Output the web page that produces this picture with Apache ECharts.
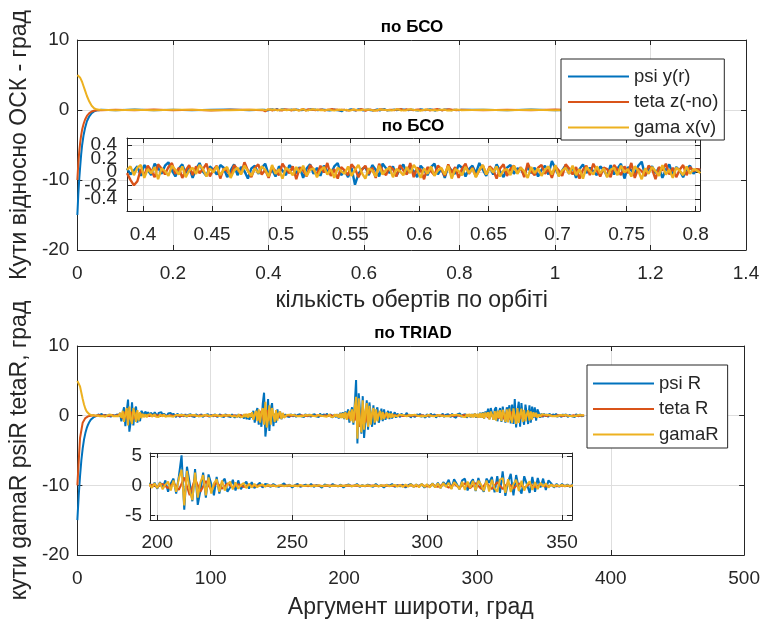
<!DOCTYPE html>
<html><head><meta charset="utf-8">
<script src="https://cdn.jsdelivr.net/npm/echarts@6/dist/echarts.min.js"></script>
<style>html,body{margin:0;padding:0;background:#fff}#c{width:763px;height:620px}</style>
</head><body><div id="c"></div>
<script>
// ---------- Top plot (по БСО): x = кількість обертів ----------
const bsoTransX = [0,0.002,0.004,0.006,0.008,0.010,0.013,0.016,0.020,0.025,0.030,0.035,0.040,0.045];
const psiTrans  = [-15,-12,-9.8,-8,-6.3,-5,-3.6,-2.6,-1.6,-0.9,-0.45,-0.2,-0.08,-0.02];
const tetaTrans = [-10,-7.6,-5.9,-4.6,-3.6,-2.8,-2.0,-1.4,-0.85,-0.45,-0.22,-0.1,-0.04,-0.01];
const gamaTrans = [5,4.95,4.8,4.6,4.3,4.0,3.4,2.8,2.0,1.2,0.6,0.25,0.1,0.03];

const bsoMidX  = [0.05,0.08,0.12,0.16,0.2,0.24,0.28,0.32,0.36];
const psiMid   = [0.03,-0.05,0.06,-0.02,0.05,-0.04,0.02,0.06,-0.03];
const tetaMid  = [-0.04,0.05,-0.02,0.06,-0.05,0.03,-0.06,0.02,0.04];
const gamaMid  = [0.02,-0.03,0.04,-0.05,0.03,0.05,-0.02,-0.04,0.03];

// zoomed window (inset) samples
const bsoInStart = 0.3884, bsoInStep = 0.0025;
const psiBsoIn = [0.05,-0.04,0.02,0.08,-0.06,0.10,0.03,-0.05,0.12,0.06,
-0.03,0.09,0.14,0.02,-0.07,0.05,0.11,-0.02,0.07,-0.09,
0.04,0.13,0.00,-0.06,0.08,0.03,-0.04,0.10,0.06,-0.08,
0.02,0.11,-0.05,0.07,0.01,-0.10,0.05,0.09,-0.03,0.06,
0.12,-0.04,0.03,-0.07,0.08,0.02,-0.05,0.10,0.04,-0.02,
0.07,-0.09,0.05,0.11,-0.03,0.06,-0.06,0.09,0.01,-0.04,
0.08,0.13,-0.05,0.02,-0.08,0.06,-0.19,-0.03,0.04,0.07,
-0.05,0.10,0.03,-0.07,0.12,0.05,-0.02,0.08,-0.06,0.04,
0.11,-0.03,0.06,0.01,-0.08,0.09,0.03,-0.05,0.07,0.12,
-0.04,0.05,-0.09,0.08,0.02,-0.03,0.10,0.06,-0.07,0.04,
0.09,-0.02,0.13,0.03,-0.06,0.07,-0.04,0.11,0.01,-0.08,
0.06,0.10,-0.03,0.05,0.04,-0.05,0.08,-0.02,0.06,-0.07,
0.03,0.09,-0.04,0.16,0.05,-0.06,0.02,0.10,-0.03,0.07,
-0.09,0.04,0.11,-0.02,0.06,0.01,-0.05,0.08,0.03,-0.07,
0.10,-0.04,0.05,0.12,-0.10,0.07,0.02,-0.03,0.09,0.15,
-0.06,0.04,0.08,-0.02,0.06,-0.09,0.03,0.11,-0.05,0.07,
0.02,-0.08,0.05,0.09,-0.03,0.04,0.02];
const tetaBsoIn = [-0.02,-0.12,-0.20,-0.14,0.04,-0.06,0.09,0.02,-0.08,0.11,
0.05,-0.04,0.07,0.13,-0.03,0.06,-0.09,0.02,0.10,-0.05,
0.08,-0.02,0.04,0.12,-0.07,0.03,0.09,-0.10,0.05,0.01,
-0.06,0.10,0.04,-0.03,0.14,0.02,-0.08,0.06,0.11,-0.04,
0.03,-0.09,0.07,0.01,-0.05,0.12,0.04,-0.02,0.08,-0.11,
0.06,0.02,-0.07,0.10,0.03,-0.04,0.09,-0.01,0.13,-0.06,
0.04,-0.10,0.07,0.02,-0.05,0.11,0.05,-0.08,0.03,0.09,
-0.03,0.06,-0.09,0.12,0.01,-0.05,0.08,0.04,-0.07,0.10,
0.02,-0.04,0.13,-0.08,0.06,0.03,-0.11,0.07,0.01,-0.05,
0.09,0.04,-0.06,0.11,-0.02,0.07,-0.09,0.05,0.12,-0.03,
0.06,-0.07,0.02,0.10,-0.04,0.08,0.03,-0.10,0.05,0.11,
-0.06,0.04,0.09,-0.02,0.07,-0.08,0.13,0.01,-0.05,0.06,
0.10,-0.03,0.04,-0.09,0.08,0.02,-0.06,0.11,0.05,-0.04,
0.07,-0.10,0.03,0.09,-0.05,0.12,0.02,-0.07,0.06,0.04,
-0.08,0.10,0.03,-0.05,0.08,-0.02,0.13,-0.09,0.05,0.01,
-0.06,0.09,0.04,-0.11,0.07,0.02,0.12,-0.04,0.06,-0.08,
0.03,0.10,-0.05,0.07,0.01,0.04,0.03];
const gamaBsoIn = [0.03,0.08,-0.05,0.06,0.10,-0.09,0.04,-0.02,0.07,-0.11,
0.05,0.01,-0.06,0.09,0.03,-0.04,0.08,-0.08,0.02,0.06,
-0.03,0.10,0.04,-0.07,0.05,-0.01,0.08,-0.05,0.03,0.07,
-0.09,0.02,0.06,-0.04,0.09,0.01,-0.06,0.05,-0.02,0.08,
0.03,-0.07,0.10,-0.03,0.04,-0.10,0.06,0.02,-0.05,0.07,
-0.01,0.09,-0.06,0.03,0.05,-0.08,0.02,0.07,-0.04,0.04,
-0.09,0.06,0.01,-0.03,0.08,-0.06,0.03,0.10,-0.02,-0.10,
0.05,0.02,-0.07,0.09,-0.04,0.03,0.06,-0.08,0.04,0.01,
-0.05,0.07,-0.02,0.10,0.03,-0.09,0.05,-0.03,0.08,-0.06,
0.02,0.06,-0.04,0.09,-0.10,0.04,0.01,-0.05,0.07,-0.02,
0.05,-0.08,0.03,0.10,-0.04,0.06,-0.01,0.08,-0.07,0.02,
0.04,-0.05,0.09,-0.03,0.06,0.01,-0.09,0.07,-0.02,0.05,
-0.06,0.03,0.08,-0.04,0.10,-0.07,0.02,0.06,-0.03,0.09,
-0.05,0.04,-0.10,0.07,0.01,-0.04,0.08,-0.02,0.05,-0.08,
0.03,0.06,-0.05,0.09,-0.01,0.04,-0.07,0.08,0.02,-0.11,
0.05,-0.03,0.07,0.01,-0.06,0.10,-0.04,0.03,-0.09,0.06,
0.02,-0.05,0.08,-0.03,0.04,0.02,-0.02];

const bsoTailX = [0.85,0.9,0.95,1.0,1.05,1.1,1.15,1.2,1.25,1.3];
const psiTail  = [0.05,-0.04,0.06,-0.02,0.04,-0.05,0.03,0.05,-0.03,0.02];
const tetaTail = [-0.03,0.05,-0.04,0.06,-0.02,0.03,-0.05,0.04,0.02,-0.03];
const gamaTail = [0.02,-0.03,0.04,-0.05,0.03,0.02,-0.04,0.03,-0.02,0.01];

const bsoMainTicks = [0,0.2,0.4,0.6,0.8,1,1.2,1.4];
const bsoInsetTicks = [0.4,0.45,0.5,0.55,0.6,0.65,0.7,0.75,0.8];
const degMainYTicks = [-20,-10,0,10];
const bsoInsetYTicks = [-0.4,-0.2,0,0.2,0.4];
const bsoInsetYLabelsA = [-0.4,0,0.4];
const bsoInsetYLabelsB = [-0.2,0.2];

// ---------- Bottom plot (по TRIAD): x = аргумент широти, град ----------
const triadStep = 1;
const psiR = [
-15,-11.5,-8.7,-6.4,-4.7,-3.4,-2.5,-1.8,-1.3,-0.9,-0.6,-0.4,-0.25,-0.15,-0.05,0.05,
0.2,-0.1,0.3,0.0,-0.2,0.1,0.3,-0.1,0.2,-0.2,0.1,0.3,0.0,-0.2,0.2,-0.1,
0.4,-0.8,0.3,1.2,-1.5,0.6,2.3,-2.3,-0.9,1.9,-1.4,0.8,1.3,-1.0,0.2,-0.8,0.7,
0.5,0.1,0.6,0.2,0.5,0.0,0.4,0.6,0.1,0.5,0.3,-0.1,0.4,0.2,0.5,0.0,0.3,0.4,-0.1,0.3,0.2,0.4,0.0,0.3,0.1,-0.2,0.3,
0.1,-0.2,0.2,0.0,-0.1,0.2,-0.2,0.1,0.0,0.2,
-0.1,0.1,-0.2,0.2,0.0,-0.1,0.1,0.2,-0.2,0.0,
0.1,-0.1,0.2,-0.2,0.1,0.0,-0.1,0.2,0.1,-0.2,
0.0,0.2,-0.1,0.1,-0.2,0.2,0.0,-0.1,0.1,-0.2,
0.2,0.0,-0.3,0.1,-0.2,0.2,-0.3,0.1,-0.1,-0.4,
0.1,-0.5,0.2,
-0.6,0.2,-0.3,0.7,-1.0,0.4,1.1,-1.3,0.5,-1.6,1.7,3.3,-3.0,-1.2,2.4,-2.2,1.0,1.8,-1.5,0.3,-1.0,0.9,-0.4,0.6,-0.5,0.3,-0.2,
0.2,-0.1,0.1,-0.2,0.2,0.0,-0.1,0.2,-0.2,0.1,
0.0,0.2,-0.1,0.1,-0.2,0.2,0.0,-0.1,0.2,-0.2,
0.1,0.0,0.2,-0.1,0.1,-0.2,0.3,0.0,-0.2,0.2,
-0.1,0.3,0.0,-0.2,0.2,-0.3,0.1,0.3,-0.2,0.2,
-0.4,0.4,-0.3,0.5,-0.5,
0.6,-0.3,0.9,-1.0,0.4,1.2,-1.3,1.6,5.1,-4.0,
3.2,0.5,-2.6,2.8,-3.2,-0.8,2.2,-2.0,1.9,0.3,
-1.6,1.5,-1.3,0.6,1.2,-1.0,-0.3,1.0,-0.8,0.9,
-0.6,0.2,0.7,-0.5,0.6,-0.4,0.1,0.5,-0.3,0.3,
0.2,-0.2,0.3,0.0,-0.2,0.1,0.4,-0.1,0.2,-0.3,
0.1,0.3,-0.2,0.0,0.2,-0.1,0.3,-0.2,0.1,0.0,
-0.3,0.2,0.1,-0.2,0.3,0.0,-0.1,0.2,-0.3,0.1,
0.2,-0.1,0.0,0.3,-0.2,0.1,-0.1,0.2,0.0,-0.2,
0.3,-0.1,0.1,-0.3,0.2,0.0,0.3,-0.2,0.1,-0.1,
0.2,-0.3,0.1,0.3,-0.2,0.2,-0.1,0.3,-0.3,0.2,
-0.2,0.4,-0.3,0.5,
-0.4,0.6,0.1,1.0,-0.5,1.1,0.3,-0.6,0.9,1.2,
-0.8,0.4,1.1,-0.9,1.3,-0.2,-1.0,1.2,0.5,1.5,
-1.1,1.6,-1.2,2.4,-1.7,0.6,2.0,-1.6,1.8,-0.4,
-1.3,1.6,0.2,-1.2,1.5,-1.0,1.3,-0.3,1.2,-0.7,
0.9,
0.4,-0.3,0.3,-0.2,0.3,-0.1,0.2,-0.2,0.3,0.0,
-0.2,0.2,-0.1,0.3,-0.2,0.1,0.0,-0.2,0.2,-0.1,
0.2,0.0,-0.2,0.1,0.2,-0.1,0.1,-0.2,0.2,0.0,
-0.1,0.2,-0.1,0.1,0.0];
const gamaR = [
5.0,4.8,4.2,3.3,2.4,1.6,1.0,0.6,0.35,0.2,0.1,0.05,0.0,0.02,-0.02,0.03,
0.1,-0.1,0.15,-0.05,0.1,-0.15,0.05,0.1,-0.1,0.15,0.0,-0.1,0.1,-0.05,0.15,-0.1,
0.4,-0.3,0.7,-0.9,0.2,1.1,-1.4,1.3,-0.5,-1.2,1.1,0.3,-0.9,0.8,-0.7,0.5,-0.35,
0.25,-0.2,0.2,-0.25,0.15,-0.1,0.2,-0.15,0.1,0.2,-0.15,0.1,-0.2,0.15,0.05,-0.1,0.2,-0.15,0.1,-0.05,0.15,-0.1,0.1,-0.15,0.05,0.1,-0.1,
0.1,-0.05,0.1,-0.1,0.05,0.1,-0.1,0.0,0.1,-0.05,
0.05,-0.1,0.1,0.0,-0.05,0.1,-0.1,0.05,0.0,-0.1,
0.1,-0.05,0.05,0.1,-0.1,0.0,0.05,-0.1,0.1,-0.05,
0.0,0.1,-0.1,0.05,0.1,-0.05,0.0,-0.1,0.1,0.05,
-0.1,0.15,-0.1,0.05,-0.15,0.2,-0.15,0.1,-0.2,0.2,
-0.2,0.25,-0.3,
0.35,-0.2,0.5,-0.6,0.2,0.7,-0.8,0.9,-1.0,0.4,1.1,-1.3,2.0,-1.7,-0.6,1.5,-1.3,1.1,0.2,-0.9,0.8,-0.7,0.3,0.6,-0.5,0.4,-0.3,
-0.15,0.1,-0.1,0.15,-0.05,0.1,-0.1,0.05,0.1,-0.1,
0.05,-0.05,0.1,-0.1,0.0,0.1,-0.05,0.05,-0.1,0.1,
0.0,-0.05,0.1,-0.1,0.05,0.1,-0.1,0.0,0.15,-0.1,
0.1,-0.15,0.05,0.15,-0.15,0.1,-0.2,0.2,-0.1,0.2,
-0.3,0.3,-0.35,0.4,-0.4,
0.5,-0.6,0.2,0.7,-0.8,0.9,-1.0,1.2,2.7,-3.3,
2.5,-0.8,-2.4,2.2,-2.0,0.6,1.8,-1.6,1.4,-1.3,
0.4,1.1,-1.0,0.9,-0.8,0.2,0.7,-0.6,0.55,-0.5,
0.1,0.45,-0.4,0.35,-0.3,0.3,-0.25,0.05,0.2,-0.15,
0.15,-0.1,0.1,-0.15,0.05,0.1,-0.1,0.0,0.1,-0.05,
0.05,-0.1,0.15,-0.05,0.0,0.1,-0.1,0.05,-0.05,0.1,
-0.1,0.05,0.1,-0.1,0.0,0.05,-0.1,0.1,-0.05,0.05,
0.1,-0.1,0.0,0.15,-0.1,0.05,-0.05,0.1,-0.1,0.0,
0.1,-0.15,0.1,-0.05,0.15,-0.1,0.05,0.15,-0.15,0.1,
-0.2,0.2,-0.15,0.25,-0.2,0.2,-0.25,0.3,-0.2,0.25,
-0.3,0.35,-0.3,0.4,
-0.4,0.45,-0.2,0.5,-0.55,0.6,0.1,-0.6,0.65,-0.7,
0.7,-0.3,0.8,-0.8,0.85,0.2,-0.9,0.9,-0.95,1.0,
-0.4,-1.0,1.05,1.3,-1.2,1.1,-1.05,0.3,1.0,-0.9,
0.85,-0.8,0.2,0.75,-0.7,0.6,-0.55,0.5,-0.15,0.4,
-0.3,
0.2,-0.15,0.15,-0.1,0.15,-0.1,0.1,-0.15,0.1,0.0,
-0.1,0.15,-0.05,0.1,-0.1,0.05,0.1,-0.1,0.05,-0.05,
0.1,-0.1,0.0,0.1,-0.05,0.05,-0.1,0.1,0.0,-0.05,
0.1,-0.05,0.05,0.0,0.05];
const tetaRStep = 2;
const tetaR = [
-10,-3.2,-1.0,-0.35,-0.1,0.0,
0.05,-0.05,0.1,-0.05,0.05,0.0,-0.05,0.1,-0.05,0.05,
0.2,-0.4,0.6,-0.7,0.6,-0.5,0.4,-0.3,0.2,
-0.1,0.1,-0.05,0.05,0.0,0.05,-0.05,0.1,-0.05,0.0,
0.05,-0.05,0.05,0.0,-0.05,0.05,0.0,-0.05,0.05,0.0,
-0.05,0.05,0.0,0.05,-0.05,0.0,0.05,-0.05,0.0,0.05,
-0.05,0.05,0.0,-0.05,0.05,-0.1,0.1,-0.1,0.15,-0.15,
0.3,-0.4,0.5,-0.6,0.7,-0.9,0.8,-0.7,0.5,-0.4,0.3,-0.2,0.15,
-0.1,0.05,-0.05,0.05,0.0,-0.05,0.05,0.0,-0.05,0.05,
0.0,-0.05,0.05,0.0,-0.05,0.05,-0.05,0.1,-0.1,0.1,
-0.15,0.2,-0.2,
0.3,-0.4,0.5,-0.7,1.4,-1.6,1.2,-1.0,0.8,-0.7,
0.6,-0.5,0.4,-0.3,0.25,-0.2,0.15,-0.1,0.1,-0.05,
0.05,-0.05,0.0,0.05,-0.05,0.05,0.0,-0.05,0.05,0.0,
-0.05,0.05,0.0,-0.05,0.05,0.0,0.05,-0.05,0.0,0.05,
-0.05,0.05,0.0,-0.05,0.1,-0.1,0.1,-0.1,0.15,-0.15,
0.2,-0.2,
0.25,-0.3,0.3,-0.35,0.4,-0.4,0.45,-0.5,0.5,-0.55,
0.6,-0.55,0.5,-0.45,0.4,-0.35,0.3,-0.25,0.2,-0.15,
0.1,
-0.1,0.05,-0.05,0.05,0.0,-0.05,0.05,0.0,-0.05,0.05,
0.0,-0.05,0.05,0.0,-0.05,0.05,0.0];

const triadMainTicks = [0,100,200,300,400,500];
const triadInsetTicks = [200,250,300,350];
const triadInsetYTicks = [-5,0,5];

const namesBso = ['psi y(r)','teta z(-no)','gama x(v)'];
const namesTriad = ['psi R','teta R','gamaR'];

// ---------- build ----------
const pairs = (xs, ys) => ys.map((y, i) => [xs[i], y]);
const bsoInX = psiBsoIn.map((_, i) => +(bsoInStart + i * bsoInStep).toFixed(5));
const triadX = psiR.map((_, i) => i * triadStep);
const tetaRX = tetaR.map((_, i) => i * tetaRStep);

const bsoAllX = bsoTransX.concat(bsoMidX, bsoInX, bsoTailX);
const psiAll = psiTrans.concat(psiMid, psiBsoIn, psiTail);
const tetaAll = tetaTrans.concat(tetaMid, tetaBsoIn, tetaTail);
const gamaAll = gamaTrans.concat(gamaMid, gamaBsoIn, gamaTail);

const FONT = '"Liberation Sans", Arial, Helvetica, sans-serif';
const AX = '#262626', GRIDC = '#dedede';
const COLORS = ['#0072BD', '#D95319', '#EDB120'];
const TICKF = 19, NAMEF = 23;

function labelCfg(labels, margin) {
  return { show: true, customValues: labels, interval: 0, color: AX, fontSize: TICKF, fontFamily: FONT, margin,
           hideOverlap: false, showMinLabel: true, showMaxLabel: true };
}
function xAxisPair(gi, min, max, ticks, margin, z, name, nameGap) {
  const base = {
    type: 'value', gridIndex: gi, min, max, z,
    axisLine: { show: true, onZero: false, lineStyle: { color: AX, width: 1 } },
    axisTick: { show: true, inside: true, length: 5, customValues: ticks, lineStyle: { color: AX } }
  };
  const bottom = Object.assign({}, base, {
    position: 'bottom', axisLabel: labelCfg(ticks, margin),
    splitLine: { show: true, lineStyle: { color: GRIDC, width: 1 } }
  });
  if (name) {
    bottom.name = name; bottom.nameLocation = 'middle'; bottom.nameGap = nameGap;
    bottom.nameTextStyle = { color: AX, fontSize: NAMEF, fontFamily: FONT };
  }
  const top = Object.assign({}, base, {
    position: 'top', axisLabel: { show: false }, splitLine: { show: false }
  });
  return [bottom, top];
}
function yAxisPair(gi, min, max, ticks, labels, margin, z, name, nameGap) {
  const base = {
    type: 'value', gridIndex: gi, min, max, z,
    axisLine: { show: true, onZero: false, lineStyle: { color: AX, width: 1 } },
    axisTick: { show: true, inside: true, length: 5, customValues: ticks, lineStyle: { color: AX } }
  };
  const left = Object.assign({}, base, {
    position: 'left', axisLabel: labelCfg(labels, margin),
    splitLine: { show: true, lineStyle: { color: GRIDC, width: 1 } }
  });
  if (name) {
    left.name = name; left.nameLocation = 'middle'; left.nameGap = nameGap;
    left.nameTextStyle = { color: AX, fontSize: NAMEF, fontFamily: FONT };
  }
  const right = Object.assign({}, base, {
    position: 'right', axisLabel: { show: false }, splitLine: { show: false }
  });
  return [left, right];
}

const xAxes = [].concat(
  xAxisPair(0, 0, 1.4, bsoMainTicks, 14, 0, 'кількість обертів по орбіті', 39),
  xAxisPair(1, 0.3884, 0.8031, bsoInsetTicks, 14, 6),
  xAxisPair(2, 0, 500, triadMainTicks, 14, 0, 'Аргумент широти, град', 41),
  xAxisPair(3, 197.3, 353.7, triadInsetTicks, 13, 6)
);
const yAxes = [].concat(
  yAxisPair(0, -20, 10, degMainYTicks, degMainYTicks, 8, 0, 'Кути відносно ОСК - град', 46),
  yAxisPair(1, -0.58, 0.5, bsoInsetYTicks, bsoInsetYLabelsA, 10, 6),
  yAxisPair(2, -20, 10, degMainYTicks, degMainYTicks, 8, 0, 'кути gamaR psiR tetaR, град', 46),
  yAxisPair(3, -5.75, 5.5, triadInsetYTicks, triadInsetYTicks, 8, 6),
  [{ // second label layer for the inset (labels overlap in the original)
    type: 'value', gridIndex: 1, min: -0.58, max: 0.5, position: 'left', offset: 0, z: 6,
    axisLine: { show: false }, axisTick: { show: false }, splitLine: { show: false },
    axisLabel: labelCfg(bsoInsetYLabelsB, 10)
  }]
);

function line(name, data, ax, color, z, w) {
  return { type: 'line', name, data, xAxisIndex: ax, yAxisIndex: ax, showSymbol: false, symbol: 'none',
    lineStyle: { color, width: w }, itemStyle: { color }, z, clip: true, silent: true, animation: false };
}

const series = [
  line(namesBso[0], pairs(bsoAllX, psiAll), 0, COLORS[0], 2, 2),
  line(namesBso[1], pairs(bsoAllX, tetaAll), 0, COLORS[1], 2, 2),
  line(namesBso[2], pairs(bsoAllX, gamaAll), 0, COLORS[2], 2, 2),
  line(namesBso[0], pairs(bsoInX, psiBsoIn), 2, COLORS[0], 7, 2.4),
  line(namesBso[1], pairs(bsoInX, tetaBsoIn), 2, COLORS[1], 7, 2.4),
  line(namesBso[2], pairs(bsoInX, gamaBsoIn), 2, COLORS[2], 7, 2.4),
  line(namesTriad[0], pairs(triadX, psiR), 4, COLORS[0], 2, 2),
  line(namesTriad[1], pairs(tetaRX, tetaR), 4, COLORS[1], 2, 2),
  line(namesTriad[2], pairs(triadX, gamaR), 4, COLORS[2], 2, 2),
  line(namesTriad[0], pairs(triadX, psiR), 6, COLORS[0], 7, 2),
  line(namesTriad[1], pairs(tetaRX, tetaR), 6, COLORS[1], 7, 2),
  line(namesTriad[2], pairs(triadX, gamaR), 6, COLORS[2], 7, 2)
];

const titleStyle = { fontSize: 17, fontWeight: 'bold', color: '#000', fontFamily: FONT };
const legendBase = {
  orient: 'vertical', icon: 'rect', itemWidth: 61, itemHeight: 2, itemGap: 6.5,
  backgroundColor: '#fff', borderColor: AX, borderWidth: 1, borderRadius: 0, z: 20,
  textStyle: { color: AX, fontSize: 18.5, fontFamily: FONT }, selectedMode: false
};

const option = {
  animation: false,
  backgroundColor: '#fff',
  title: [
    { text: 'по БСО', left: 412, top: 19, textAlign: 'center', textStyle: titleStyle, padding: 0 },
    { text: 'по БСО', left: 413, top: 118, textAlign: 'center', textStyle: titleStyle, padding: 0, z: 8 },
    { text: 'по TRIAD', left: 413, top: 325, textAlign: 'center', textStyle: titleStyle, padding: 0 }
  ],
  grid: [
    { left: 76, top: 40, width: 670, height: 210, z: 1, show: false },
    { left: 127, top: 138, width: 573, height: 73, z: 5, show: true, backgroundColor: '#fff', borderWidth: 0 },
    { left: 76, top: 346, width: 670, height: 210, z: 1, show: false },
    { left: 150, top: 453, width: 422, height: 67, z: 5, show: true, backgroundColor: '#fff', borderWidth: 0 }
  ],
  xAxis: xAxes,
  yAxis: yAxes,
  legend: [
    Object.assign({}, legendBase, { data: namesBso, left: 561, top: 59, padding: [8, 6, 3, 7] }),
    Object.assign({}, legendBase, { data: namesTriad, left: 587, top: 365, padding: [9, 9, 4, 6] })
  ],
  series
};
const chart = echarts.init(document.getElementById('c'), null, { renderer: 'canvas' });
chart.setOption(option);
</script></body></html>
